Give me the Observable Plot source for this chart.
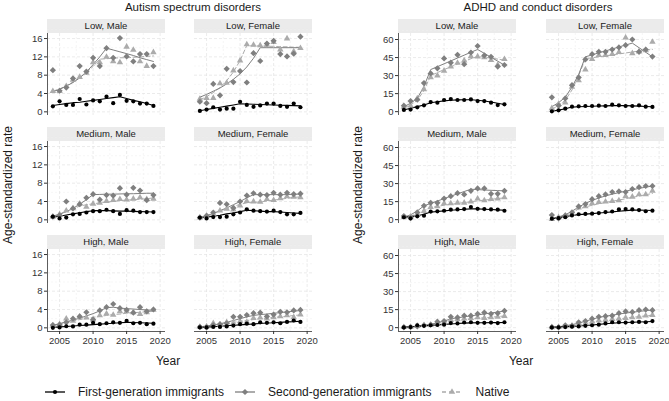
<!DOCTYPE html>
<html>
<head>
<meta charset="utf-8">
<script src="https://cdn.jsdelivr.net/npm/d3@7"></script>
<script src="https://cdn.jsdelivr.net/npm/@observablehq/plot@0.6"></script>
<style>
  body { margin: 0; background: #fff; font-family: "Liberation Sans", Arial, sans-serif; }
  #chart { position: relative; width: 669px; height: 401px; overflow: hidden; background: #fff; color: #1a1a1a; }
  .strip { position: absolute; height: 14px; line-height: 14px; background: #ebebeb; color: #1a1a1a; font-size: 9.5px; text-align: center; }
  .title { position: absolute; font-size: 11.5px; white-space: nowrap; transform: translate(-50%, -50%); }
  .xlab { position: absolute; font-size: 12px; white-space: nowrap; transform: translate(-50%, -50%); }
  .ylab { position: absolute; font-size: 12px; white-space: nowrap; transform: translate(-50%, -50%) rotate(-90deg); }
  .legend { position: absolute; left: 45px; top: 385px; display: flex; align-items: center; font-size: 12px; white-space: nowrap; }
  .legend .item { display: flex; align-items: center; margin-right: 11px; }
  .legend svg { display: block; margin-right: 13px; }
</style>
</head>
<body>
<div id="chart"></div>
<script>
// ---- categories and labels ----
const years = [2004, 2005, 2006, 2007, 2008, 2009, 2010, 2011, 2012, 2013, 2014, 2015, 2016, 2017, 2018, 2019];
const facetLabels = ["Low, Male", "Low, Female", "Medium, Male", "Medium, Female", "High, Male", "High, Female"];
const disorderTitles = ["Autism spectrum disorders", "ADHD and conduct disorders"];
const seriesNames = ["First-generation immigrants", "Second-generation immigrants", "Native"];
const yAxisLabel = "Age-standardized rate";
const xAxisLabel = "Year";
const xTicks = [2005, 2010, 2015, 2020];
const asdTicks = [0, 4, 8, 12, 16];
const adhdTicks = [0, 15, 30, 45, 60];

// ---- Autism spectrum disorders: observed rates (rows follow facetLabels) ----
const asdFirstObs = [
  [1.2, 2.3, 1.5, 1.5, 2.8, 1.6, 2.5, 2.3, 3.3, 1.9, 3.7, 2.4, 2.3, 1.8, 1.8, 1.3],
  [0.2, 0.5, 1.0, 0.5, 0.7, 0.7, 2.2, 1.5, 1.1, 1.4, 1.8, 1.8, 1.3, 1.1, 1.8, 1.0],
  [0.7, 0.3, 0.5, 1.2, 1.3, 1.6, 1.9, 1.9, 2.2, 1.9, 1.3, 2.1, 2.0, 1.7, 1.7, 1.7],
  [0.5, 0.3, 0.6, 0.6, 0.7, 1.2, 1.6, 2.3, 2.0, 1.9, 1.8, 2.0, 1.7, 1.2, 1.2, 1.5],
  [0.0, 0.1, 0.35, 0.3, 0.7, 0.7, 1.1, 0.8, 1.0, 1.2, 1.1, 1.5, 1.0, 1.1, 0.8, 0.9],
  [0.1, 0.1, 0.2, 0.2, 0.3, 0.5, 0.8, 0.9, 0.8, 1.2, 1.1, 1.2, 1.0, 1.3, 1.6, 1.3]
];
const asdSecondObs = [
  [9.1, 4.6, 5.3, 7.3, 10.0, 8.8, 11.8, 10.0, 13.9, 11.8, 16.1, 12.1, 11.0, 12.6, 12.6, 10.0],
  [2.2, 1.9, 6.1, 3.6, 9.4, 6.5, 8.9, 6.4, 12.8, 11.1, 14.9, 15.5, 12.6, 12.1, 12.7, 16.4],
  [0.7, 1.0, 4.0, 2.5, 3.4, 4.8, 5.6, 4.4, 5.4, 5.3, 6.9, 5.5, 7.0, 6.4, 4.3, 5.4],
  [0.5, 0.9, 1.6, 3.7, 3.4, 2.6, 4.0, 5.3, 5.8, 5.5, 5.4, 5.9, 5.5, 5.9, 5.6, 5.7],
  [0.6, 0.7, 1.2, 2.0, 2.5, 3.4, 1.8, 3.8, 4.5, 5.2, 4.3, 3.9, 3.3, 4.5, 3.6, 4.0],
  [0.2, 0.1, 0.6, 0.8, 1.0, 2.4, 2.4, 2.8, 3.2, 3.3, 2.5, 2.9, 3.5, 3.4, 3.8, 3.9]
];
const asdNativeObs = [
  [4.5, 4.5, 5.6, 7.0, 7.6, 8.5, 10.8, 10.8, 12.0, 11.0, 10.8, 14.2, 13.5, 11.0, 10.0, 13.0],
  [2.8, 3.0, 3.0, 6.2, 6.3, 9.0, 11.2, 14.7, 14.6, 14.5, 14.6, 15.2, 13.6, 16.0, 13.2, 13.9],
  [0.7, 1.2, 2.0, 2.5, 3.5, 2.8, 3.5, 3.7, 4.1, 4.3, 4.5, 4.4, 4.6, 4.9, 4.5, 4.6],
  [0.5, 0.8, 1.3, 2.0, 2.4, 2.2, 3.1, 4.1, 4.0, 3.9, 4.5, 4.3, 4.7, 5.1, 5.0, 4.9],
  [0.5, 0.8, 2.0, 1.5, 2.4, 2.2, 1.8, 2.7, 3.1, 2.8, 3.6, 3.6, 3.4, 3.0, 3.4, 3.9],
  [0.2, 0.3, 1.0, 0.7, 1.2, 1.0, 1.4, 1.3, 2.1, 2.2, 2.0, 2.3, 2.5, 2.7, 2.3, 2.9]
];

// ---- Autism spectrum disorders: fitted trends ----
const asdFirstFit = [
  [1.4, 1.6, 1.8, 2.0, 2.1, 2.3, 2.5, 2.7, 2.9, 3.1, 3.3, 2.9, 2.5, 2.2, 1.8, 1.4],
  [0.25, 0.5, 0.75, 1.0, 1.25, 1.5, 1.75, 1.7, 1.65, 1.6, 1.55, 1.5, 1.45, 1.4, 1.35, 1.3],
  [0.6, 0.8, 1.05, 1.3, 1.55, 1.8, 2.0, 2.0, 2.0, 1.95, 1.9, 1.9, 1.85, 1.8, 1.75, 1.7],
  [0.4, 0.6, 0.8, 1.0, 1.3, 1.5, 1.8, 2.1, 2.0, 1.9, 1.8, 1.8, 1.7, 1.6, 1.5, 1.4],
  [0.1, 0.2, 0.3, 0.4, 0.5, 0.6, 0.7, 0.8, 0.9, 1.0, 1.1, 1.2, 1.15, 1.1, 1.05, 1.0],
  [0.05, 0.15, 0.25, 0.35, 0.45, 0.55, 0.65, 0.75, 0.85, 0.95, 1.05, 1.1, 1.2, 1.3, 1.35, 1.45]
];
const asdSecondFit = [
  [4.4, 4.9, 5.6, 6.4, 7.4, 8.7, 10.3, 12.0, 13.9, 13.5, 13.1, 12.7, 12.3, 11.8, 11.4, 11.0],
  [3.2, 3.8, 4.5, 5.2, 6.1, 7.1, 8.3, 9.8, 11.7, 14.0, 14.0, 14.0, 14.0, 14.0, 14.0, 14.0],
  [0.7, 1.2, 1.8, 2.5, 3.4, 4.4, 5.5, 5.55, 5.6, 5.6, 5.65, 5.7, 5.7, 5.75, 5.8, 5.8],
  [0.5, 0.9, 1.4, 2.0, 2.6, 3.3, 4.0, 4.8, 5.5, 5.5, 5.5, 5.5, 5.5, 5.5, 5.6, 5.6],
  [0.5, 0.9, 1.3, 1.7, 2.1, 2.6, 3.1, 3.7, 4.4, 4.5, 4.3, 4.2, 4.1, 4.0, 3.9, 3.8],
  [0.2, 0.4, 0.6, 0.9, 1.2, 1.6, 2.0, 2.4, 2.7, 2.9, 3.0, 3.2, 3.3, 3.5, 3.6, 3.8]
];
const asdNativeFit = [
  [4.5, 5.0, 5.7, 6.5, 7.5, 8.6, 9.9, 11.5, 11.6, 11.7, 11.8, 11.8, 11.9, 12.0, 12.1, 12.2],
  [2.6, 3.3, 4.2, 5.3, 6.8, 8.7, 11.2, 14.5, 14.4, 14.4, 14.3, 14.3, 14.2, 14.2, 14.1, 14.1],
  [0.8, 1.3, 1.8, 2.4, 3.0, 3.3, 3.5, 3.7, 3.9, 4.0, 4.2, 4.3, 4.4, 4.5, 4.6, 4.8],
  [0.5, 0.9, 1.4, 1.9, 2.4, 2.9, 3.4, 3.7, 3.8, 3.9, 4.1, 4.3, 4.5, 4.7, 4.9, 5.0],
  [0.6, 0.9, 1.2, 1.5, 1.8, 2.0, 2.3, 2.5, 2.7, 2.9, 3.0, 3.2, 3.3, 3.4, 3.5, 3.6],
  [0.2, 0.4, 0.6, 0.8, 1.0, 1.2, 1.4, 1.6, 1.8, 2.0, 2.1, 2.3, 2.4, 2.5, 2.7, 2.8]
];

// ---- ADHD and conduct disorders: observed rates ----
const adhdFirstObs = [
  [1.4, 1.7, 3.6, 5.3, 8.0, 7.5, 9.7, 10.5, 9.7, 9.7, 10.2, 8.8, 8.8, 7.5, 5.5, 6.1],
  [0.3, 1.1, 2.5, 4.1, 4.4, 4.7, 4.7, 5.0, 4.7, 5.8, 5.3, 4.7, 4.7, 5.3, 4.1, 3.9],
  [2.0, 1.0, 2.8, 3.3, 6.7, 6.9, 7.4, 8.3, 8.5, 8.8, 10.5, 9.0, 8.8, 8.5, 8.3, 7.4],
  [0.8, 1.2, 2.0, 3.5, 4.5, 4.8, 5.0, 5.5, 6.3, 6.8, 8.5, 8.8, 8.5, 8.0, 7.0, 7.5],
  [0.2, 0.5, 2.0, 1.5, 2.0, 2.2, 2.5, 3.8, 3.5, 4.3, 4.5, 4.0, 4.0, 4.2, 3.8, 4.5],
  [0.2, 0.3, 0.5, 0.8, 1.0, 1.5, 2.0, 2.5, 3.5, 4.5, 4.5, 4.2, 4.5, 4.8, 4.5, 5.5]
];
const adhdSecondObs = [
  [5.0, 8.8, 10.0, 23.8, 31.8, 36.0, 44.3, 40.7, 47.3, 39.5, 49.2, 54.6, 46.8, 45.6, 37.5, 38.8],
  [11.9, 5.0, 11.0, 22.0, 28.5, 43.4, 47.8, 49.8, 49.8, 51.7, 53.4, 55.3, 60.0, 49.8, 51.7, 45.8],
  [3.0, 1.5, 6.0, 11.5, 14.0, 14.0, 17.5, 19.5, 22.0, 21.0, 24.0, 26.0, 26.0, 21.5, 21.5, 24.0],
  [3.8, 1.0, 3.5, 6.0, 11.0, 13.0, 17.0, 19.5, 21.0, 23.0, 23.5, 23.0, 25.5, 27.0, 28.0, 28.0],
  [0.3, 0.5, 1.0, 2.0, 2.5, 5.0, 5.5, 9.0, 8.5, 10.0, 10.0, 11.5, 12.5, 11.5, 12.0, 14.0],
  [0.4, 0.2, 2.0, 1.5, 4.5, 5.5, 7.5, 9.0, 9.5, 10.0, 12.0, 13.5, 13.0, 14.5, 15.0, 14.5]
];
const adhdNativeObs = [
  [4.0, 5.0, 11.0, 18.5, 28.5, 30.0, 34.0, 37.5, 40.5, 42.5, 46.0, 45.8, 45.2, 42.8, 39.0, 43.6],
  [2.8, 6.3, 7.5, 20.7, 26.0, 35.0, 43.7, 47.0, 47.0, 47.8, 49.5, 61.5, 48.5, 50.0, 51.0, 58.0],
  [1.8, 2.5, 4.0, 7.0, 10.5, 11.0, 13.5, 13.5, 14.0, 14.0, 15.0, 17.5, 16.0, 17.0, 17.5, 18.5],
  [0.5, 2.0, 3.0, 5.0, 10.0, 11.0, 13.5, 14.5, 15.0, 15.5, 16.0, 19.5, 19.0, 21.0, 21.0, 24.0],
  [0.4, 0.6, 1.5, 2.0, 2.3, 3.5, 4.0, 6.5, 7.0, 7.5, 8.0, 8.5, 8.0, 8.5, 9.0, 9.5],
  [0.3, 0.5, 1.0, 1.5, 3.0, 3.5, 5.0, 6.0, 6.5, 7.0, 7.5, 8.0, 8.5, 9.0, 10.0, 10.5]
];

// ---- ADHD and conduct disorders: fitted trends ----
const adhdFirstFit = [
  [1.4, 2.8, 4.2, 5.6, 7.4, 8.3, 9.0, 9.5, 9.8, 9.9, 9.9, 9.5, 8.9, 8.0, 7.0, 6.0],
  [0.3, 1.3, 2.4, 3.8, 4.1, 4.3, 4.5, 4.7, 4.8, 5.0, 5.1, 5.0, 4.8, 4.6, 4.3, 4.1],
  [2.0, 2.5, 3.3, 4.5, 6.3, 6.8, 7.3, 7.8, 8.2, 8.6, 9.0, 9.0, 8.7, 8.4, 8.1, 7.8],
  [0.8, 1.6, 2.5, 3.4, 4.2, 4.6, 5.0, 5.5, 6.0, 6.5, 7.0, 7.5, 7.9, 8.0, 7.8, 7.6],
  [0.3, 0.7, 1.1, 1.5, 1.9, 2.3, 2.7, 3.1, 3.5, 3.8, 4.0, 4.1, 4.1, 4.2, 4.2, 4.3],
  [0.2, 0.5, 0.8, 1.1, 1.4, 1.8, 2.2, 2.7, 3.2, 3.7, 4.1, 4.3, 4.5, 4.7, 4.9, 5.1]
];
const adhdSecondFit = [
  [4.1, 7.0, 11.0, 21.0, 35.0, 37.4, 39.8, 42.2, 44.6, 47.0, 49.4, 51.7, 48.5, 45.2, 42.0, 38.7],
  [4.1, 7.5, 12.0, 20.5, 31.0, 45.6, 47.2, 48.9, 50.5, 52.1, 53.8, 55.4, 57.0, 53.2, 49.4, 45.6],
  [2.0, 4.0, 7.2, 11.5, 13.5, 15.5, 17.5, 19.5, 21.5, 23.4, 25.3, 25.0, 24.7, 24.4, 24.2, 23.9],
  [1.0, 2.3, 4.0, 7.0, 10.5, 13.5, 16.0, 18.0, 19.7, 21.2, 22.5, 23.7, 24.9, 26.0, 27.0, 28.0],
  [0.3, 0.7, 1.2, 1.9, 2.8, 4.0, 5.5, 7.3, 8.2, 9.0, 9.8, 10.6, 11.4, 12.2, 13.0, 13.8],
  [0.3, 0.8, 1.5, 2.5, 3.8, 5.3, 7.0, 8.5, 9.5, 10.4, 11.3, 12.1, 12.8, 13.5, 14.1, 14.7]
];
const adhdNativeFit = [
  [3.3, 5.5, 9.5, 17.5, 30.0, 32.5, 35.0, 37.3, 39.5, 41.8, 44.0, 46.0, 45.3, 44.5, 43.7, 42.8],
  [2.0, 5.0, 9.5, 18.0, 30.0, 44.0, 44.8, 45.6, 46.4, 47.2, 48.0, 48.8, 49.6, 50.4, 51.1, 51.8],
  [1.8, 3.0, 4.8, 7.5, 10.0, 11.0, 12.0, 12.8, 13.5, 14.2, 14.9, 15.6, 16.2, 16.9, 17.5, 18.2],
  [0.8, 1.8, 3.3, 5.5, 9.0, 10.5, 12.0, 13.2, 14.3, 15.3, 16.3, 17.4, 18.5, 19.6, 20.7, 21.8],
  [0.4, 0.8, 1.3, 1.9, 2.6, 3.4, 4.3, 5.2, 6.0, 6.6, 7.2, 7.7, 8.2, 8.7, 9.2, 9.7],
  [0.3, 0.6, 1.1, 1.7, 2.5, 3.4, 4.3, 5.1, 5.8, 6.5, 7.2, 7.9, 8.6, 9.2, 9.8, 10.4]
];

// ---- styling of the three population groups (drawn back to front) ----
const seriesStyles = [
  {name: seriesNames[2], symbol: "triangle", color: "#ababab", dash: "4,2.5", r: 2.4, width: 1},
  {name: seriesNames[1], symbol: "diamond2", color: "#7f7f7f", dash: null, r: 2.8, width: 1},
  {name: seriesNames[0], symbol: "circle", color: "#000000", dash: null, r: 2.1, width: 1.1}
];
const legendSymbols = {circle: d3.symbolCircle, diamond2: d3.symbolDiamond2, triangle: d3.symbolTriangle};

// ---- layout ----
const FONT = '"Liberation Sans", Arial, sans-serif';
const PANEL_W = 118, PANEL_H = 82, STRIP = 14, ML = 30, MR = 6, MB = 24;
const rowTop = [19, 127, 235];
const xDomain = [2003.2, 2020.8];

const groups = [
  {
    title: disorderTitles[0], titleX: 193, ylabX: 8, xlabX: 168,
    cols: [47, 194], yDomain: [-0.8, 17.1], yTicks: asdTicks,
    obs: [asdNativeObs, asdSecondObs, asdFirstObs],
    fit: [asdNativeFit, asdSecondFit, asdFirstFit]
  },
  {
    title: disorderTitles[1], titleX: 538, ylabX: 358, xlabX: 521,
    cols: [398, 546], yDomain: [-3.2, 65], yTicks: adhdTicks,
    obs: [adhdNativeObs, adhdSecondObs, adhdFirstObs],
    fit: [adhdNativeFit, adhdSecondFit, adhdFirstFit]
  }
];

const chart = document.getElementById("chart");

function addText(cls, text, x, y) {
  const el = document.createElement("div");
  el.className = cls;
  el.textContent = text;
  el.style.left = x + "px";
  el.style.top = y + "px";
  chart.appendChild(el);
  return el;
}

function toRows(values) {
  return years.map((year, k) => ({year, rate: values[k]}));
}

function minorSteps(ticks) {
  const step = ticks[1] - ticks[0];
  return ticks.map(t => t + step / 2);
}

function drawPanel(group, i) {
  const row = Math.floor(i / 2), col = i % 2;
  const left = group.cols[col], top = rowTop[row];

  const strip = document.createElement("div");
  strip.className = "strip";
  strip.style.left = left + "px";
  strip.style.top = top + "px";
  strip.style.width = PANEL_W + "px";
  strip.textContent = facetLabels[i];
  chart.appendChild(strip);

  const marks = [
    Plot.gridX({ticks: minorSteps(xTicks).slice(0, 3), stroke: "#f0f0f0", strokeOpacity: 1, strokeWidth: 0.6, strokeDasharray: "2,2"}),
    Plot.gridY({ticks: minorSteps(group.yTicks), stroke: "#f0f0f0", strokeOpacity: 1, strokeWidth: 0.6, strokeDasharray: "2,2"}),
    Plot.gridX({ticks: xTicks, stroke: "#e3e3e3", strokeOpacity: 1, strokeWidth: 0.7, strokeDasharray: "3,2"}),
    Plot.gridY({ticks: group.yTicks, stroke: "#e3e3e3", strokeOpacity: 1, strokeWidth: 0.7, strokeDasharray: "3,2"})
  ];
  if (col === 0) {
    marks.push(Plot.axisY({ticks: group.yTicks, tickSize: 3, tickPadding: 2, label: null, stroke: "#333", fill: "#333"}));
    marks.push(Plot.ruleX([xDomain[0]], {stroke: "#333", strokeWidth: 0.8}));
  }
  if (row === 2) {
    marks.push(Plot.axisX({ticks: xTicks, tickSize: 3, tickPadding: 3, tickFormat: "d", label: null, stroke: "#333", fill: "#333"}));
    marks.push(Plot.ruleY([group.yDomain[0]], {stroke: "#333", strokeWidth: 0.8}));
  }
  seriesStyles.forEach((s, k) => {
    marks.push(Plot.line(toRows(group.fit[k][i]), {
      x: "year", y: "rate", stroke: s.color, strokeWidth: s.width,
      strokeDasharray: s.dash, curve: "linear"
    }));
  });
  seriesStyles.forEach((s, k) => {
    marks.push(Plot.dot(toRows(group.obs[k][i]), {
      x: "year", y: "rate", symbol: s.symbol, fill: s.color, r: s.r, stroke: "none"
    }));
  });

  const svg = Plot.plot({
    width: ML + PANEL_W + MR,
    height: PANEL_H + MB,
    marginLeft: ML, marginRight: MR, marginTop: 0, marginBottom: MB,
    x: {domain: xDomain, axis: row === 2 ? undefined : null},
    y: {domain: group.yDomain, axis: col === 0 ? undefined : null},
    style: {background: "transparent", overflow: "visible", fontFamily: FONT, fontSize: "9.5px", color: "#333"},
    marks
  });
  svg.style.position = "absolute";
  svg.style.left = (left - ML) + "px";
  svg.style.top = (top + STRIP) + "px";
  chart.appendChild(svg);
}

groups.forEach(group => {
  addText("title", group.title, group.titleX, 7);
  addText("ylab", yAxisLabel, group.ylabX, 185);
  addText("xlab", xAxisLabel, group.xlabX, 361);
  facetLabels.forEach((_, i) => drawPanel(group, i));
});

// ---- legend ----
const legend = document.createElement("div");
legend.className = "legend";
const ns = "http://www.w3.org/2000/svg";
[2, 1, 0].forEach(k => {
  const s = seriesStyles[k];
  const item = document.createElement("div");
  item.className = "item";
  const sw = document.createElementNS(ns, "svg");
  sw.setAttribute("width", 20);
  sw.setAttribute("height", 12);
  const ln = document.createElementNS(ns, "line");
  ln.setAttribute("x1", 0); ln.setAttribute("x2", 20);
  ln.setAttribute("y1", 6); ln.setAttribute("y2", 6);
  ln.setAttribute("stroke", s.color);
  ln.setAttribute("stroke-width", 1.3);
  if (s.dash) ln.setAttribute("stroke-dasharray", "4,3");
  sw.appendChild(ln);
  const p = document.createElementNS(ns, "path");
  p.setAttribute("d", d3.symbol(legendSymbols[s.symbol], Math.PI * s.r * s.r)());
  p.setAttribute("transform", "translate(10,6)");
  p.setAttribute("fill", s.color);
  sw.appendChild(p);
  item.appendChild(sw);
  const t = document.createElement("span");
  t.textContent = s.name;
  item.appendChild(t);
  legend.appendChild(item);
});
chart.appendChild(legend);
</script>
</body>
</html>
